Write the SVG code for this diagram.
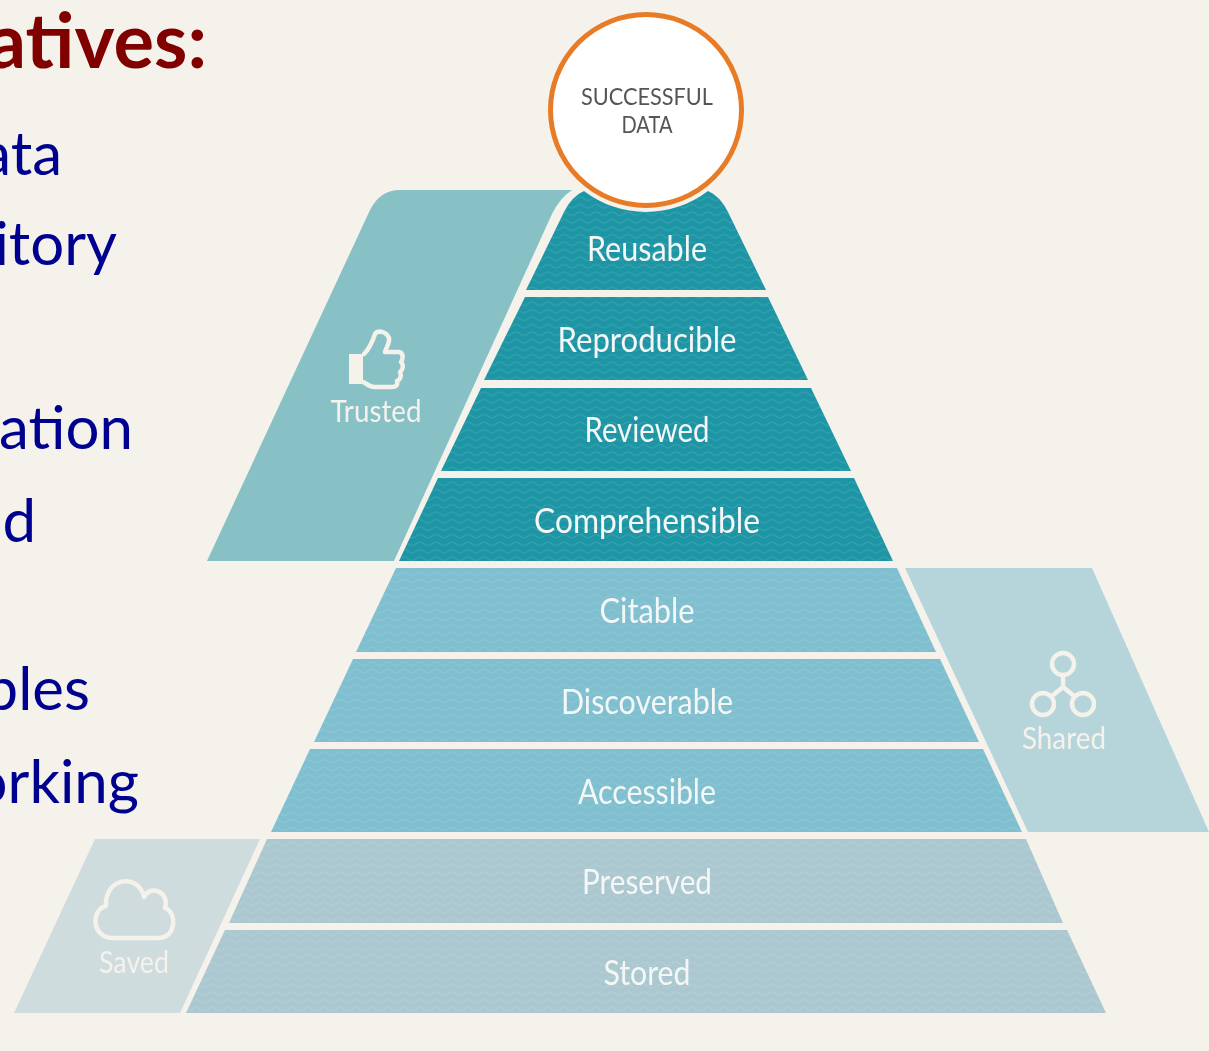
<svg xmlns="http://www.w3.org/2000/svg" width="1209" height="1051" viewBox="0 0 1209 1051">
<style>
.side{font-family:"Lato","Liberation Sans",sans-serif;font-size:30px;fill:#f5f2ec;text-anchor:middle}
.lvl{font-family:"Lato","Liberation Sans",sans-serif;font-size:34px;fill:#f4f7f5;text-anchor:middle}
.left{font-family:"Lato","Liberation Sans",sans-serif;font-size:60px;fill:#000090;text-anchor:end}
.head{font-family:"Lato","Liberation Sans",sans-serif;font-size:76px;font-weight:700;fill:#800000;text-anchor:end}
.cap{font-family:"Lato","Liberation Sans",sans-serif;font-size:24px;fill:#555;text-anchor:middle}
.icon{fill:none;stroke:#f5f2ec;stroke-width:4.5;stroke-linejoin:round;stroke-linecap:round}
.wave{fill:none;stroke:#fff;stroke-opacity:.1;stroke-width:1.2}
.soft{filter:url(#b)}
</style>
<defs>
<pattern id="w" width="16" height="7.5" patternUnits="userSpaceOnUse"><path class="wave" d="M0 3.75q4-3.5 8 0t8 0"/></pattern>
<filter id="b" x="-5%" y="-5%" width="110%" height="110%"><feGaussianBlur stdDeviation="0.6"/></filter>
</defs>
<rect width="1209" height="1051" fill="#f5f2ec"/>
<g id="heading" class="soft"><text class="head" x="207" y="68">atives:</text></g>
<g id="left-text" class="soft">
<text class="left" x="62" y="175">ata</text>
<text class="left" x="117" y="265">itory</text>
<text class="left" x="133" y="449">ation</text>
<text class="left" x="36" y="542">nd</text>
<text class="left" x="90" y="710">bles</text>
<text class="left" x="139" y="803">orking</text>
</g>
<g id="trusted" class="soft"><path d="M207 561L370 210Q380 190 400 190H572Q560 198 552 214L394 561Z" fill="#87c1c5"/>
<path d="M349 354h14v30h-14z" fill="#f5f2ec"/>
<path class="icon" d="M364 354C370 348 373 340 375 334C378 330 386 331 389 338C390 343 386 348 385 352H399C404 353 403 359 401 362C404 365 403 370 400 372C402 376 400 380 397 381C398 385 396 387 392 387H374C370 387 367 384 363 382"/>
<text class="side" x="376" y="422" textLength="91" lengthAdjust="spacingAndGlyphs">Trusted</text></g>
<g id="shared" class="soft"><path d="M905 568H1092L1209 832H1028Z" fill="#b5d5db"/>
<circle class="icon" cx="1063" cy="664" r="11"/><circle class="icon" cx="1043" cy="704" r="11"/><circle class="icon" cx="1083" cy="704" r="11"/><path class="icon" d="M1063 676v11M1063 687L1052 696M1063 687L1074 696"/>
<text class="side" x="1064" y="749" textLength="84" lengthAdjust="spacingAndGlyphs">Shared</text></g>
<g id="saved" class="soft"><path d="M95 839H260L180 1013H14Z" fill="#cedcdd"/>
<path class="icon" d="M113 938C91 938 91 909 106 906C104 878 138 872 144 897C150 884 170 892 165 908C177 912 177 938 158 938Z"/>
<text class="side" x="134" y="973" textLength="70" lengthAdjust="spacingAndGlyphs">Saved</text></g>
<g id="lvl-reusable" class="soft"><path d="M526 290L564 212Q572 196 584 191A102 102 0 0 0 708 191Q720 196 728 212L766 290Z" fill="#1f95a5"/><path d="M526 290L564 212Q572 196 584 191A102 102 0 0 0 708 191Q720 196 728 212L766 290Z" fill="url(#w)"/><text class="lvl" x="647" y="260.500" textLength="120" lengthAdjust="spacingAndGlyphs">Reusable</text></g>
<g id="lvl-reproducible" class="soft"><path d="M484 380L525 297H768L808 380Z" fill="#1f95a5"/><path d="M484 380L525 297H768L808 380Z" fill="url(#w)"/><text class="lvl" x="647" y="351.500" textLength="179" lengthAdjust="spacingAndGlyphs">Reproducible</text></g>
<g id="lvl-reviewed" class="soft"><path d="M441 471L481 388H811L851 471Z" fill="#1f95a5"/><path d="M441 471L481 388H811L851 471Z" fill="url(#w)"/><text class="lvl" x="647" y="441.500" textLength="125" lengthAdjust="spacingAndGlyphs">Reviewed</text></g>
<g id="lvl-comprehensible" class="soft"><path d="M399 561L438 478H854L893 561Z" fill="#1f95a5"/><path d="M399 561L438 478H854L893 561Z" fill="url(#w)"/><text class="lvl" x="647" y="532.500" textLength="226" lengthAdjust="spacingAndGlyphs">Comprehensible</text></g>
<g id="lvl-citable" class="soft"><path d="M356 652L396 568H897L936 652Z" fill="#7fbfd0"/><path d="M356 652L396 568H897L936 652Z" fill="url(#w)"/><text class="lvl" x="647" y="622.500" textLength="95" lengthAdjust="spacingAndGlyphs">Citable</text></g>
<g id="lvl-discoverable" class="soft"><path d="M314 742L353 659H940L979 742Z" fill="#7fbfd0"/><path d="M314 742L353 659H940L979 742Z" fill="url(#w)"/><text class="lvl" x="647" y="713.500" textLength="172" lengthAdjust="spacingAndGlyphs">Discoverable</text></g>
<g id="lvl-accessible" class="soft"><path d="M271 832L310 749H983L1022 832Z" fill="#7fbfd0"/><path d="M271 832L310 749H983L1022 832Z" fill="url(#w)"/><text class="lvl" x="647" y="803.500" textLength="138" lengthAdjust="spacingAndGlyphs">Accessible</text></g>
<g id="lvl-preserved" class="soft"><path d="M229 923L267 839H1026L1063 923Z" fill="#abc8d0"/><path d="M229 923L267 839H1026L1063 923Z" fill="url(#w)"/><text class="lvl" x="647" y="893.500" textLength="130" lengthAdjust="spacingAndGlyphs">Preserved</text></g>
<g id="lvl-stored" class="soft"><path d="M186 1013L225 930H1067L1106 1013Z" fill="#abc8d0"/><path d="M186 1013L225 930H1067L1106 1013Z" fill="url(#w)"/><text class="lvl" x="647" y="984.500" textLength="87" lengthAdjust="spacingAndGlyphs">Stored</text></g>
<g id="successful-data" class="soft"><circle cx="646" cy="110" r="95.500" fill="#fff" stroke="#e87c25" stroke-width="5"/>
<text class="cap" x="647" y="105" textLength="132" lengthAdjust="spacingAndGlyphs">SUCCESSFUL</text>
<text class="cap" x="647" y="133" textLength="51" lengthAdjust="spacingAndGlyphs">DATA</text></g>
</svg>
